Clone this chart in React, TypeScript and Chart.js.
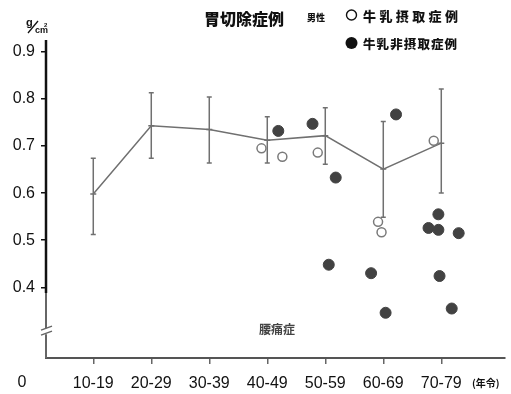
import React, { useEffect, useRef } from "react";
import { Chart, registerables } from "chart.js";

Chart.register(...registerables);

// Age groups (x positions 1..7) and group statistics of bone mineral density (g/cm²)
const ageGroups = ["10-19", "20-29", "30-39", "40-49", "50-59", "60-69", "70-79"];
const groupPos = [1, 2, 3, 4, 5, 6, 7];
const meanBMD = [0.598, 0.743, 0.735, 0.712, 0.722, 0.651, 0.706];
const sdUpper = [0.674, 0.813, 0.804, 0.762, 0.781, 0.752, 0.821];
const sdLower = [0.512, 0.674, 0.664, 0.664, 0.661, 0.549, 0.6];

// Gastrectomy cases with milk intake (open circles)
const milkAge = [3.9, 4.26, 4.87, 5.91, 5.97, 6.87];
const milkBMD = [0.695, 0.677, 0.686, 0.539, 0.517, 0.711];

// Gastrectomy cases without milk intake (filled circles)
const noMilkAge = [4.19, 4.78, 5.18, 6.22, 5.06, 5.79, 6.04, 6.78, 6.95, 6.95, 7.3, 6.97, 7.18];
const noMilkBMD = [0.732, 0.747, 0.633, 0.767, 0.448, 0.43, 0.346, 0.526, 0.555, 0.522, 0.515, 0.424, 0.355];

const yTicks = [0.4, 0.5, 0.6, 0.7, 0.8, 0.9];

const NUM_FONT = "'Liberation Sans', Arial, sans-serif";
const CJK_FONT = "'Noto Sans CJK JP', 'Noto Sans', sans-serif";

const errorBars = {
  id: "errorBars",
  beforeDatasetsDraw(chart: any) {
    const { ctx, scales } = chart;
    const x = scales.x;
    const y = scales.y;
    ctx.save();
    ctx.strokeStyle = "#707070";
    ctx.lineWidth = 1.5;
    groupPos.forEach((g, i) => {
      const px = x.getPixelForValue(g);
      const top = y.getPixelForValue(sdUpper[i]);
      const bot = y.getPixelForValue(sdLower[i]);
      const m = y.getPixelForValue(meanBMD[i]);
      ctx.beginPath();
      ctx.moveTo(px, top);
      ctx.lineTo(px, bot);
      ctx.moveTo(px - 2.5, top);
      ctx.lineTo(px + 2.5, top);
      ctx.moveTo(px - 2.5, bot);
      ctx.lineTo(px + 2.5, bot);
      ctx.moveTo(px - 3, m);
      ctx.lineTo(px + 3, m);
      ctx.stroke();
    });
    ctx.restore();
  },
};

const axisAndLabels = {
  id: "axisAndLabels",
  afterDraw(chart: any) {
    const { ctx, chartArea, scales } = chart;
    const y = scales.y;
    const left = chartArea.left;
    const splitY = y.getPixelForValue(0.388);
    const breakY = y.getPixelForValue(0.307);
    ctx.save();

    // Vertical axis: solid upper part, thinner lower part with a break mark
    ctx.strokeStyle = "#111";
    ctx.lineWidth = 2.5;
    ctx.beginPath();
    ctx.moveTo(left, chartArea.top);
    ctx.lineTo(left, splitY);
    ctx.stroke();
    ctx.strokeStyle = "#666";
    ctx.lineWidth = 2;
    ctx.beginPath();
    ctx.moveTo(left, splitY);
    ctx.lineTo(left, breakY - 3);
    ctx.moveTo(left, breakY + 3);
    ctx.lineTo(left, chartArea.bottom);
    ctx.stroke();
    ctx.lineWidth = 1.5;
    ctx.beginPath();
    ctx.moveTo(left - 5, breakY - 1);
    ctx.lineTo(left + 6, breakY - 5);
    ctx.moveTo(left - 5, breakY + 4);
    ctx.lineTo(left + 6, breakY);
    ctx.stroke();

    ctx.fillStyle = "#111";
    ctx.textBaseline = "middle";

    // Origin label
    ctx.font = `16px ${NUM_FONT}`;
    ctx.textAlign = "center";
    ctx.fillText("0", 22, 383);

    // Unit g/cm²
    ctx.textAlign = "left";
    ctx.font = `bold 11px ${NUM_FONT}`;
    ctx.fillText("g", 26, 23);
    ctx.lineWidth = 1.3;
    ctx.strokeStyle = "#111";
    ctx.beginPath();
    ctx.moveTo(28, 33);
    ctx.lineTo(38, 21);
    ctx.stroke();
    ctx.font = `bold 9px ${NUM_FONT}`;
    ctx.fillText("cm", 35, 31);
    ctx.font = `bold 6px ${NUM_FONT}`;
    ctx.fillText("2", 44, 25);

    // Title
    ctx.font = `900 16px ${CJK_FONT}`;
    ctx.fillText("胃切除症例", 204, 19);
    ctx.font = `900 9px ${CJK_FONT}`;
    ctx.fillText("男性", 307, 18);

    // Legend
    ctx.strokeStyle = "#111";
    ctx.lineWidth = 1.4;
    ctx.beginPath();
    ctx.arc(351.5, 15, 5, 0, Math.PI * 2);
    ctx.stroke();
    ctx.beginPath();
    ctx.arc(351.5, 43, 6, 0, Math.PI * 2);
    ctx.fill();
    ctx.font = `900 13px ${CJK_FONT}`;
    Array.from("牛乳摂取症例").forEach((c, i) => ctx.fillText(c, 363 + i * 16.4, 16));
    ctx.font = `900 12.5px ${CJK_FONT}`;
    Array.from("牛乳非摂取症例").forEach((c, i) => ctx.fillText(c, 363 + i * 13.6, 44));

    // Annotation and x unit
    ctx.fillStyle = "#444";
    ctx.font = `bold 12px ${CJK_FONT}`;
    ctx.textAlign = "center";
    ctx.fillText("腰痛症", 277, 329);
    ctx.fillStyle = "#111";
    ctx.font = `bold 10px ${CJK_FONT}`;
    ctx.textAlign = "left";
    ctx.fillText("(年令)", 472, 383);

    ctx.restore();
  },
};

export default function App() {
  const canvasRef = useRef<HTMLCanvasElement | null>(null);

  useEffect(() => {
    document.body.style.margin = "0";
    const canvas = canvasRef.current;
    if (!canvas) return;
    const chart = new Chart(canvas, {
      type: "scatter",
      data: {
        datasets: [
          {
            label: "平均",
            data: groupPos.map((g, i) => ({ x: g, y: meanBMD[i] })),
            showLine: true,
            borderColor: "#707070",
            borderWidth: 1.5,
            pointRadius: 0,
            tension: 0,
            order: 3,
          },
          {
            label: "牛乳摂取症例",
            data: milkAge.map((a, i) => ({ x: a, y: milkBMD[i] })),
            pointRadius: 4.5,
            backgroundColor: "#ffffff",
            borderColor: "#7a7a7a",
            borderWidth: 1.5,
            order: 2,
          },
          {
            label: "牛乳非摂取症例",
            data: noMilkAge.map((a, i) => ({ x: a, y: noMilkBMD[i] })),
            pointRadius: 5.5,
            backgroundColor: "#424242",
            borderColor: "#424242",
            borderWidth: 1,
            order: 1,
          },
        ],
      } as any,
      options: {
        responsive: false,
        animation: false,
        layout: { padding: { left: 0, right: 6, top: 40, bottom: 0 } },
        plugins: { legend: { display: false }, tooltip: { enabled: false } },
        scales: {
          x: {
            type: "linear",
            min: 0.185,
            max: 8.09,
            afterBuildTicks: (s: any) => {
              s.ticks = groupPos.map((v) => ({ value: v }));
            },
            afterFit: (s: any) => {
              s.height = 36;
            },
            ticks: {
              autoSkip: false,
              maxRotation: 0,
              padding: 10,
              color: "#111",
              font: { family: NUM_FONT, size: 16 },
              callback: (v: any) => {
                const i = groupPos.indexOf(Number(v));
                return i >= 0 ? ageGroups[i] : "";
              },
            },
            grid: { drawOnChartArea: false, drawTicks: true, tickLength: 6, color: "#666", lineWidth: 1.5 },
            border: { display: true, color: "#555", width: 2 },
          },
          y: {
            type: "linear",
            min: 0.25,
            max: 0.925,
            afterBuildTicks: (s: any) => {
              s.ticks = yTicks.map((v) => ({ value: v }));
            },
            afterFit: (s: any) => {
              s.width = 46;
            },
            ticks: {
              padding: 6,
              color: "#111",
              font: { family: NUM_FONT, size: 16 },
              callback: (v: any) => Number(v).toFixed(1),
            },
            grid: { drawOnChartArea: false, drawTicks: true, tickLength: 5, color: "#111", lineWidth: 1.5 },
            border: { display: false },
          },
        },
      } as any,
      plugins: [errorBars, axisAndLabels],
    });
    return () => chart.destroy();
  }, []);

  return (
    <div style={{ width: 511, height: 394, background: "#fff" }}>
      <canvas ref={canvasRef} width={511} height={394} />
    </div>
  );
}
